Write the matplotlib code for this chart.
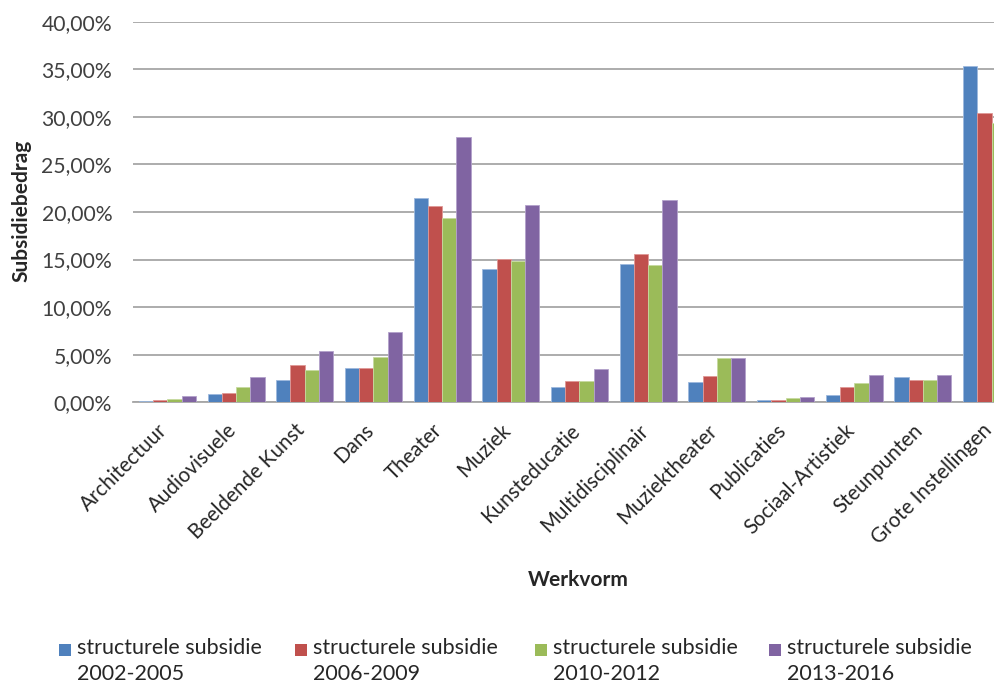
import matplotlib
matplotlib.use("Agg")
import matplotlib.pyplot as plt
import matplotlib.transforms as mtransforms
from matplotlib.patches import Rectangle
from matplotlib.ticker import FuncFormatter
import numpy as np

plt.rcParams['font.family'] = ['Lato', 'DejaVu Sans']

categories = ["Architectuur", "Audiovisuele", "Beeldende Kunst", "Dans", "Theater",
              "Muziek", "Kunsteducatie", "Multidisciplinair", "Muziektheater",
              "Publicaties", "Sociaal-Artistiek", "Steunpunten", "Grote Instellingen"]

series_labels = ["structurele subsidie\n2002-2005", "structurele subsidie\n2006-2009",
                 "structurele subsidie\n2010-2012", "structurele subsidie\n2013-2016"]

s2002 = [0.15, 0.87, 2.31, 3.64, 21.43, 14.03, 1.58, 14.50, 2.16, 0.27, 0.73, 2.66, 35.33]
s2006 = [0.27, 0.98, 3.89, 3.64, 20.65, 15.08, 2.27, 15.58, 2.76, 0.27, 1.58, 2.31, 30.36]
s2010 = [0.38, 1.58, 3.39, 4.79, 19.33, 14.90, 2.27, 14.39, 4.68, 0.42, 2.03, 2.31, 29.37]
s2013 = [0.63, 2.66, 5.42, 7.35, 27.90, 20.76, 3.50, 21.25, 4.68, 0.52, 2.90, 2.90, 0.00]

series = [s2002, s2006, s2010, s2013]
colors = ["#4F81BD", "#C0504D", "#9BBB59", "#8064A2"]
edges = ["#9DB9DD", "#E09896", "#C7DAA0", "#B3A1CB"]
text_color = "#262626"

W, H = 995, 686
fig = plt.figure(figsize=(W / 100, H / 100), dpi=100)

# plot area in pixels (it runs past the right edge of the canvas)
left_px, right_px, top_px, bottom_px = 133, 1026, 21.7, 402.3
ax = fig.add_axes([left_px / W, 1 - bottom_px / H,
                   (right_px - left_px) / W, (bottom_px - top_px) / H])

x = np.arange(len(categories))
bw = 0.2075
for i, (vals, c, ec) in enumerate(zip(series, colors, edges)):
    ax.bar(x + (i - 1.5) * bw, np.array(vals) / 100, width=bw, color=c,
           edgecolor=ec, linewidth=0.6, zorder=3)

ax.set_xlim(-0.5, len(categories) - 0.5)
ax.set_ylim(0, 0.40)
ax.set_yticks(np.arange(0, 0.401, 0.05))
ax.yaxis.set_major_formatter(FuncFormatter(lambda v, p: f"{v * 100:.2f}%".replace(".", ",")))
ax.grid(axis="y", color="#A6A6A6", linewidth=1.3, zorder=0)
for s in ["left", "right", "top"]:
    ax.spines[s].set_visible(False)
ax.spines["bottom"].set_color("#A6A6A6")
ax.spines["bottom"].set_linewidth(1.3)
ax.tick_params(axis="y", length=0, pad=15, labelsize=15.2, labelcolor="#404040")
ax.tick_params(axis="x", length=0, pad=13)
ax.set_xticks(x)
ax.set_xticklabels(categories, rotation=45, ha="right", va="top",
                   rotation_mode="anchor", fontsize=14.8, color=text_color)
shift = mtransforms.ScaledTranslation(-10 / 100, 0, fig.dpi_scale_trans)
for lbl in ax.get_xticklabels():
    lbl.set_transform(lbl.get_transform() + shift)

fig.text(21 / W, 1 - 211 / H, "Subsidiebedrag", rotation=90, ha="center", va="center",
         fontsize=15, fontweight="bold", color=text_color)
fig.text(578 / W, 1 - 580 / H, "Werkvorm", ha="center", va="center",
         fontsize=15, fontweight="bold", color=text_color)

# legend along the bottom
leg_x = [59, 295, 535, 769]
for lx, c, lab in zip(leg_x, colors, series_labels):
    fig.patches.append(Rectangle((lx / W, 1 - 656 / H), 12 / W, 12 / H,
                                 transform=fig.transFigure, facecolor=c,
                                 edgecolor="none", figure=fig))
    line1, line2 = lab.split("\n")
    fig.text((lx + 18) / W, 1 - 654 / H, line1, ha="left", va="baseline",
             fontsize=15.5, color=text_color)
    fig.text((lx + 18) / W, 1 - 680 / H, line2, ha="left", va="baseline",
             fontsize=15.5, color=text_color)

fig.savefig("out.png", dpi=100)
